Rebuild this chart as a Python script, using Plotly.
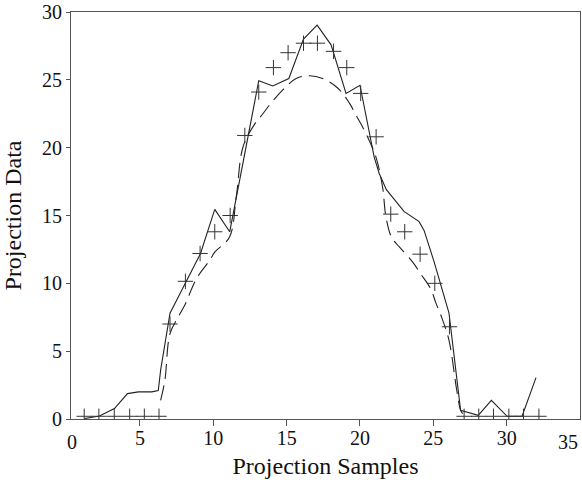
import plotly.graph_objects as go

# measured projection (solid line)
meas_x = [1.22, 2.24, 3.26, 4.15, 4.9, 5.8, 6.25, 6.41, 7.05, 8.13, 9.13, 10.1, 11.12,
          13.1, 14.06, 15.15, 16.15, 17.08, 18.03, 19.05, 20.0, 20.97, 21.31, 21.8,
          23.0, 24.03, 24.37, 25.05, 26.07, 26.86, 28.06, 28.96, 30.03, 31.05, 32.0]
meas_y = [0.03, 0.22, 0.77, 1.87, 2.0, 2.0, 2.1, 3.6, 7.8, 10.07, 12.2, 15.45, 13.8,
          24.94, 24.55, 25.1, 28.0, 29.03, 27.58, 24.0, 24.6, 19.3, 18.1, 16.9,
          15.3, 14.55, 13.9, 11.6, 7.8, 0.64, 0.27, 1.38, 0.2, 0.2, 3.05]

# sampled values (+ markers)
samp_x = [1.2, 2.2, 3.25, 4.3, 5.3, 6.3, 7.05, 8.1, 9.1, 10.1, 11.15, 12.15, 13.1, 14.1,
          15.1, 16.15, 17.1, 18.2, 19.1, 20.05, 21.1, 22.1, 23.05, 24.1, 25.1, 26.1,
          27.1, 28.1, 29.1, 30.15, 31.15, 32.2]
samp_y = [0.2, 0.2, 0.2, 0.2, 0.2, 0.2, 7.0, 10.15, 12.2, 13.8, 15.0, 20.9, 24.1, 25.9,
          27.0, 27.7, 27.7, 27.1, 25.9, 24.0, 20.8, 15.1, 13.8, 12.15, 10.0, 6.8,
          0.2, 0.2, 0.2, 0.2, 0.2, 0.2]

# fitted curve (dashed line)
fit_x = [6.41, 6.7, 7.05, 7.6, 8.06, 8.86, 9.76, 10.1, 11.1, 11.57, 12.03, 12.8, 13.38,
         13.95, 14.74, 15.65, 16.56, 17.46, 18.48, 19.27, 19.73, 20.4, 21.09, 21.54,
         21.77, 22.15, 22.67, 23.57, 24.14, 24.82, 25.16, 25.6, 26.07, 26.6, 26.86, 27.0]
fit_y = [1.38, 2.85, 6.3, 7.5, 8.4, 10.36, 11.7, 12.3, 13.4, 16.4, 20.07, 21.7, 22.5,
         23.3, 24.26, 25.1, 25.3, 25.1, 24.4, 23.3, 22.4, 21.06, 19.3, 17.1,
         14.9, 13.4, 12.7, 11.6, 10.7, 9.6, 8.6, 7.4, 5.8, 2.1, 0.64, 0.4]

x_ticks = [5, 10, 15, 20, 25, 30]
y_ticks = [0, 5, 10, 15, 20, 25, 30]

fig = go.Figure()
fig.add_trace(go.Scatter(x=meas_x, y=meas_y, mode='lines',
                         line=dict(color='#222', width=1.1)))
fig.add_trace(go.Scatter(x=samp_x, y=samp_y, mode='markers',
                         marker=dict(symbol='cross-thin', size=11,
                                     line=dict(color='#333', width=1))))
fig.add_trace(go.Scatter(x=fit_x, y=fit_y, mode='lines', line_shape='spline',
                         line=dict(color='#222', width=1.1, dash='15px,7px')))

font = dict(family='Liberation Serif', size=20, color='#111')
fig.update_layout(
    width=582, height=486,
    margin=dict(l=71, r=2, t=12, b=67),
    paper_bgcolor='white', plot_bgcolor='white',
    showlegend=False,
    font=font,
)
fig.update_xaxes(range=[0.3, 35], tickvals=x_ticks, automargin=False,
                 ticks='outside', ticklen=6, tickcolor='#555',
                 ticklabelstandoff=-5, ticklabeloverflow='allow',
                 showline=True, linecolor='#555', linewidth=1.2, mirror=True,
                 showgrid=False, zeroline=False,
                 title=dict(text='Projection Samples', standoff=9), tickfont=font)
fig.update_yaxes(range=[0, 30], tickvals=y_ticks, automargin=False,
                 ticks='outside', ticklen=4, tickcolor='#555',
                 ticklabeloverflow='allow',
                 showline=True, linecolor='#555', linewidth=1.2, mirror=True,
                 showgrid=False, zeroline=False,
                 title=dict(text='Projection Data', standoff=14), tickfont=font)

# end labels of the x axis sit just inside the frame
for txt, xv in [('0', 0.4), ('35', 34.2)]:
    fig.add_annotation(text=txt, x=xv, xref='x', y=-0.025, yref='paper',
                       yanchor='top', showarrow=False, font=font)

# drop the default page margin so the figure fills the window
fig.write_html("out.html", config={'displayModeBar': False},
               post_script="document.body.style.margin='0';"
                           "document.body.style.overflow='hidden';")
